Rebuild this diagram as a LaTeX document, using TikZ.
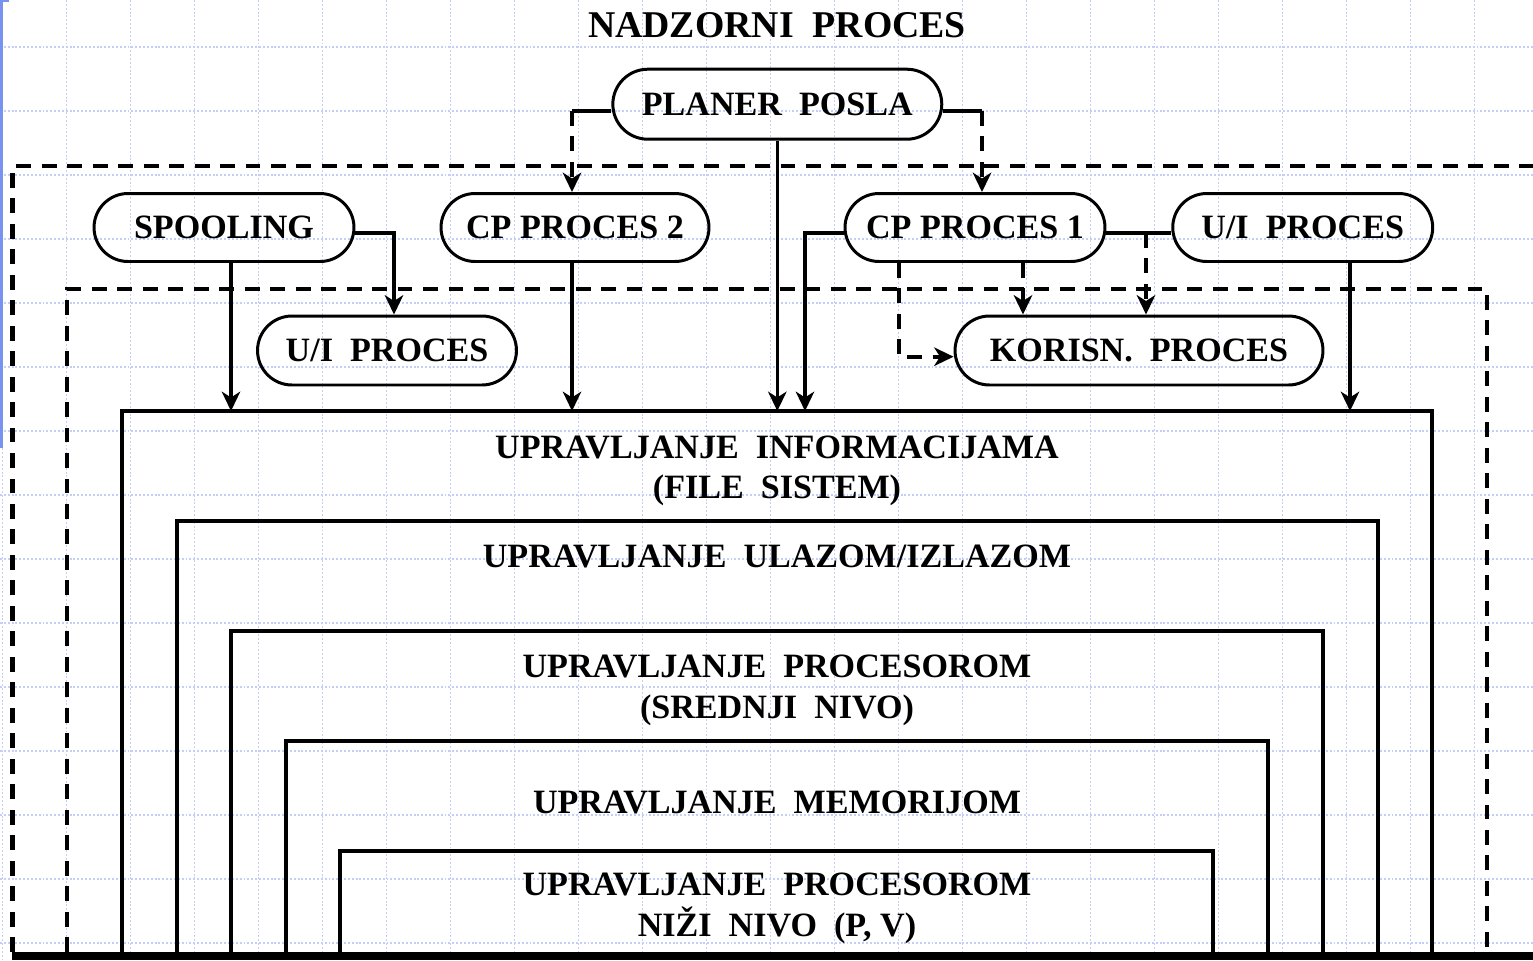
\documentclass[tikz,border=0pt]{standalone}
\usepackage{fontspec}
\setmainfont{Liberation Serif}
\usetikzlibrary{arrows.meta}
\definecolor{gridc}{RGB}{196,206,250}
\definecolor{bluebar}{RGB}{120,146,240}
\newcommand{\dsp}{\hspace{0.5em}}
\tikzset{
  gridline/.style={draw=gridc, line width=0.6pt, dash pattern=on 1.1pt off 1.1pt},
  pill/.style={draw, line width=1.7pt, rounded corners=0.68cm, minimum height=1.36cm,
    inner sep=0pt, font=\bfseries\fontsize{19.4pt}{22pt}\selectfont, text height=12.8pt, text depth=0pt},
  lab/.style={font=\bfseries\fontsize{19.4pt}{22pt}\selectfont, inner sep=0pt, anchor=base},
  conn/.style={line width=1.8pt},
  dconn/.style={line width=2.4pt, dash pattern=on 8.5pt off 6pt},
  arr/.style={-{Stealth[length=11pt,width=10.5pt,inset=3.3pt]}},
  wall/.style={line width=1.8pt},
  dwall/.style={line width=2.5pt, dash pattern=on 8.5pt off 6pt},
}
\begin{document}
\begin{tikzpicture}[x=0.02cm, y=-0.02cm]
\useasboundingbox (0,0) rectangle (1533,960);
% background grid
\foreach \k in {0,...,23} \draw[gridline] (2.7+64*\k,0) -- (2.7+64*\k,960);
\foreach \k in {0,...,14} \draw[gridline] (0,47+64*\k) -- (1533,47+64*\k);
\draw[bluebar, line width=1.9pt] (1.6,0) -- (1.6,448);
\draw[bluebar, line width=1.5pt] (1.6,0.8) -- (9,0.8);

% title
\node[lab, font=\bfseries\fontsize{21.5pt}{24pt}\selectfont] (title) at (777,37.5) {NADZORNI\dsp PROCES};

% dashed frames
\draw[dwall] (12.5,952) -- (12.5,166) -- (1533,166);
\draw[dwall] (67,952) -- (67,289) -- (1487,289) -- (1487,952);

% nested layers
\draw[wall] (122,952) -- (122,411) -- (1432,411) -- (1432,952);
\draw[wall] (177,952) -- (177,521) -- (1378,521) -- (1378,952);
\draw[wall] (231,952) -- (231,631) -- (1323,631) -- (1323,952);
\draw[wall] (286,952) -- (286,741) -- (1268,741) -- (1268,952);
\draw[wall] (340,952) -- (340,851) -- (1213,851) -- (1213,952);
\fill (12,951.5) rectangle (1533,960);
\coordinate (layer) at (777,411);

% layer labels
\node[lab] (l1a) at (777,458) {UPRAVLJANJE\dsp INFORMACIJAMA};
\node[lab] (l1b) at (777,498) {(FILE\dsp SISTEM)};
\node[lab] (l2) at (777,567) {UPRAVLJANJE\dsp ULAZOM/IZLAZOM};
\node[lab] (l3a) at (777,677) {UPRAVLJANJE\dsp PROCESOROM};
\node[lab] (l3b) at (777,718) {(SREDNJI\dsp NIVO)};
\node[lab] (l4) at (777,813) {UPRAVLJANJE\dsp MEMORIJOM};
\node[lab] (l5a) at (777,895) {UPRAVLJANJE\dsp PROCESOROM};
\node[lab] (l5b) at (777,936) {NIŽI\dsp NIVO\dsp (P, V)};

% process nodes
\node[pill, minimum width=6.58cm, minimum height=1.4cm, rounded corners=0.7cm] (plan) at (777.3,104.2) {PLANER\dsp POSLA};
\node[pill, minimum width=5.2cm] (spool) at (224,227.5) {SPOOLING};
\node[pill, minimum width=5.36cm] (cp2) at (575,227.5) {CP PROCES 2};
\node[pill, minimum width=5.2cm] (cp1) at (975,227.5) {CP PROCES 1};
\node[pill, minimum width=5.2cm] (uia) at (1302.7,227.5) {U/I\dsp PROCES};
\node[pill, minimum width=5.18cm, minimum height=1.38cm, rounded corners=0.69cm] (uib) at (387,350.5) {U/I\dsp PROCES};
\node[pill, minimum width=7.36cm, minimum height=1.38cm, rounded corners=0.69cm] (kor) at (1139,350.5) {KORISN.\dsp PROCES};

% helper coordinates
\coordinate (pl) at (572,111);
\coordinate (pr) at (982,111);
\coordinate (sx) at (231,0);
\coordinate (sr) at (394,233);
\coordinate (c2x) at (572,0);
\coordinate (c1l) at (805,233);
\coordinate (c1y) at (0,233);
\coordinate (br) at (1146,233);
\coordinate (d1) at (1023,0);
\coordinate (d2) at (899,356.7);
\coordinate (ux) at (1350,0);

% connectors
\draw[conn] (plan.west |- pl) -- (pl);
\draw[dconn, arr] (pl) -- (pl |- cp2.north);
\draw[conn] (plan.east |- pr) -- (pr);
\draw[dconn, arr] (pr) -- (pr |- cp1.north);
\draw[conn, arr] (plan.south) -- (plan.south |- layer);

\draw[conn, arr] (sx |- spool.south) -- (sx |- layer);
\draw[conn, arr] (spool.east |- sr) -- (sr) -- (sr |- uib.north);
\draw[conn, arr] (c2x |- cp2.south) -- (c2x |- layer);
\draw[conn, arr] (cp1.west |- c1l) -- (c1l) -- (c1l |- layer);
\draw[conn] (cp1.east |- c1y) -- (uia.west |- c1y);
\draw[dconn, arr] (br) -- (br |- kor.north);
\draw[dconn, arr] (d1 |- cp1.south) -- (d1 |- kor.north);
\draw[dconn, arr] (d2 |- cp1.south) -- (d2) -- (kor.west |- d2);
\draw[conn, arr] (ux |- uia.south) -- (ux |- layer);
\end{tikzpicture}
\end{document}
